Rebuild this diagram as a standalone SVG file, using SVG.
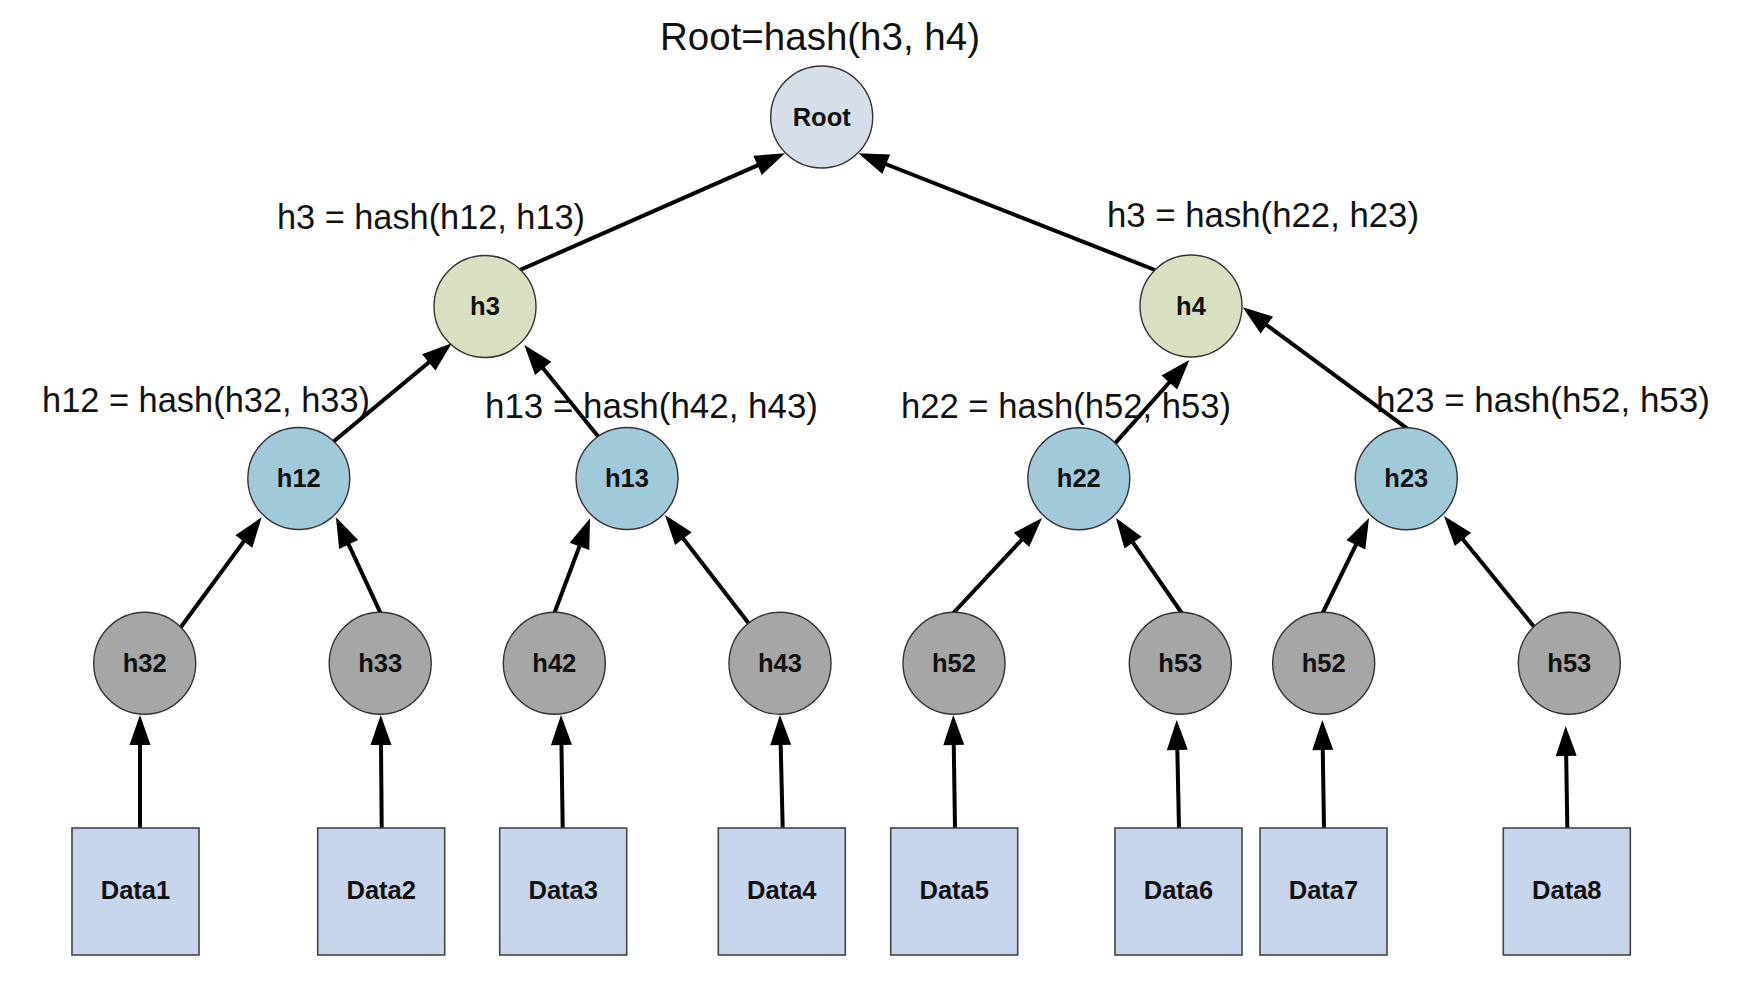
<svg xmlns="http://www.w3.org/2000/svg" width="1744" height="982" viewBox="0 0 1744 982">
<defs>
<style>
.lbl{font-family:"Liberation Sans",Arial,sans-serif;font-size:34.5px;fill:#111}
.ttl{font-family:"Liberation Sans",Arial,sans-serif;font-size:38.5px;fill:#111}
.nt{font-family:"Liberation Sans",Arial,sans-serif;font-size:25.5px;font-weight:bold;fill:#111;text-anchor:middle}
.nd{stroke:#333;stroke-width:1.4}
.root{fill:#d6deea}
.mid{fill:#d8e0c1}
.blue{fill:#a0c9d9}
.gray{fill:#a6a6a6}
.box{fill:#c8d6ed;stroke:#444;stroke-width:1.6}
.e{stroke:#000;stroke-width:4;fill:none;marker-end:url(#ah)}
</style>
<marker id="ah" markerUnits="userSpaceOnUse" markerWidth="32" markerHeight="22" refX="24" refY="10.5" orient="auto" overflow="visible">
<path d="M0,0 L30,10.5 L0,21 z" fill="#000"/>
</marker>
</defs>
<rect width="1744" height="982" fill="#fff"/>
<g id="labels">
<text class="ttl" x="660" y="50" textLength="320" lengthAdjust="spacingAndGlyphs">Root=hash(h3, h4)</text>
<text class="lbl" x="277" y="229" textLength="308" lengthAdjust="spacingAndGlyphs">h3 = hash(h12, h13)</text>
<text class="lbl" x="1107" y="227" textLength="312" lengthAdjust="spacingAndGlyphs">h3 = hash(h22, h23)</text>
<text class="lbl" x="42" y="412" textLength="328" lengthAdjust="spacingAndGlyphs">h12 = hash(h32, h33)</text>
<text class="lbl" x="485" y="418" textLength="333" lengthAdjust="spacingAndGlyphs">h13 = hash(h42, h43)</text>
<text class="lbl" x="901" y="418" textLength="330" lengthAdjust="spacingAndGlyphs">h22 = hash(h52, h53)</text>
<text class="lbl" x="1376" y="412" textLength="334" lengthAdjust="spacingAndGlyphs">h23 = hash(h52, h53)</text>
</g>
<g id="connectors">
<line class="e" x1="520" y1="270" x2="779.5" y2="155.7"/>
<line class="e" x1="1155" y1="270" x2="863.9" y2="155.5"/>
<line class="e" x1="333.3" y1="441.7" x2="447.2" y2="347.1"/>
<line class="e" x1="599.6" y1="438.3" x2="528.1" y2="349.7"/>
<line class="e" x1="1115" y1="443.3" x2="1185.3" y2="364.5"/>
<line class="e" x1="1408.3" y1="429.3" x2="1247.5" y2="310.9"/>
<line class="e" x1="180" y1="628.3" x2="258.1" y2="522.1"/>
<line class="e" x1="380.7" y1="613.3" x2="338.5" y2="522.7"/>
<line class="e" x1="554.3" y1="613.3" x2="587.9" y2="523.9"/>
<line class="e" x1="750" y1="625" x2="668.7" y2="519.7"/>
<line class="e" x1="953.3" y1="613" x2="1037.9" y2="522.4"/>
<line class="e" x1="1181.7" y1="613" x2="1119.4" y2="522.9"/>
<line class="e" x1="1322.7" y1="613" x2="1366.4" y2="523.4"/>
<line class="e" x1="1534" y1="626.7" x2="1447.8" y2="520.7"/>
<line class="e" x1="140" y1="828" x2="140" y2="721"/>
<line class="e" x1="381.7" y1="828" x2="380.8" y2="721"/>
<line class="e" x1="562.7" y1="828" x2="561.1" y2="721"/>
<line class="e" x1="782.7" y1="828" x2="780.1" y2="721"/>
<line class="e" x1="955" y1="828" x2="953.4" y2="721"/>
<line class="e" x1="1179" y1="828" x2="1176.8" y2="726"/>
<line class="e" x1="1324" y1="828" x2="1322.4" y2="726"/>
<line class="e" x1="1567.3" y1="828" x2="1565.8" y2="732"/>
</g>
<g id="root"><circle class="nd root" cx="821.7" cy="117" r="51"/><text class="nt" x="821.7" y="125.5">Root</text></g>
<g id="h3"><circle class="nd mid" cx="485" cy="306.5" r="51"/><text class="nt" x="485" y="315">h3</text></g>
<g id="h4"><circle class="nd mid" cx="1191" cy="306" r="51"/><text class="nt" x="1191" y="314.5">h4</text></g>
<g id="h12"><circle class="nd blue" cx="298.8" cy="478.5" r="51"/><text class="nt" x="298.8" y="487">h12</text></g>
<g id="h13"><circle class="nd blue" cx="627" cy="478.5" r="51"/><text class="nt" x="627" y="487">h13</text></g>
<g id="h22"><circle class="nd blue" cx="1078.8" cy="478.8" r="51"/><text class="nt" x="1078.8" y="487.3">h22</text></g>
<g id="h23"><circle class="nd blue" cx="1406.3" cy="478.8" r="51"/><text class="nt" x="1406.3" y="487.3">h23</text></g>
<g id="h32"><circle class="nd gray" cx="144.7" cy="663.3" r="51"/><text class="nt" x="144.7" y="671.8">h32</text></g>
<g id="h33"><circle class="nd gray" cx="380.2" cy="663.3" r="51"/><text class="nt" x="380.2" y="671.8">h33</text></g>
<g id="h42"><circle class="nd gray" cx="554.3" cy="663.3" r="51"/><text class="nt" x="554.3" y="671.8">h42</text></g>
<g id="h43"><circle class="nd gray" cx="780" cy="663.3" r="51"/><text class="nt" x="780" y="671.8">h43</text></g>
<g id="h52a"><circle class="nd gray" cx="954" cy="663.3" r="51"/><text class="nt" x="954" y="671.8">h52</text></g>
<g id="h53a"><circle class="nd gray" cx="1180.3" cy="663.3" r="51"/><text class="nt" x="1180.3" y="671.8">h53</text></g>
<g id="h52b"><circle class="nd gray" cx="1323.7" cy="663.3" r="51"/><text class="nt" x="1323.7" y="671.8">h52</text></g>
<g id="h53b"><circle class="nd gray" cx="1569.3" cy="663.3" r="51"/><text class="nt" x="1569.3" y="671.8">h53</text></g>
<g id="data1"><rect class="box" x="72" y="828" width="127" height="127"/><text class="nt" x="135.5" y="898.5">Data1</text></g>
<g id="data2"><rect class="box" x="317.7" y="828" width="127" height="127"/><text class="nt" x="381.2" y="898.5">Data2</text></g>
<g id="data3"><rect class="box" x="499.7" y="828" width="127" height="127"/><text class="nt" x="563.2" y="898.5">Data3</text></g>
<g id="data4"><rect class="box" x="718.3" y="828" width="127" height="127"/><text class="nt" x="781.8" y="898.5">Data4</text></g>
<g id="data5"><rect class="box" x="890.7" y="828" width="127" height="127"/><text class="nt" x="954.2" y="898.5">Data5</text></g>
<g id="data6"><rect class="box" x="1115" y="828" width="127" height="127"/><text class="nt" x="1178.5" y="898.5">Data6</text></g>
<g id="data7"><rect class="box" x="1260" y="828" width="127" height="127"/><text class="nt" x="1323.5" y="898.5">Data7</text></g>
<g id="data8"><rect class="box" x="1503.3" y="828" width="127" height="127"/><text class="nt" x="1566.8" y="898.5">Data8</text></g>
</svg>
